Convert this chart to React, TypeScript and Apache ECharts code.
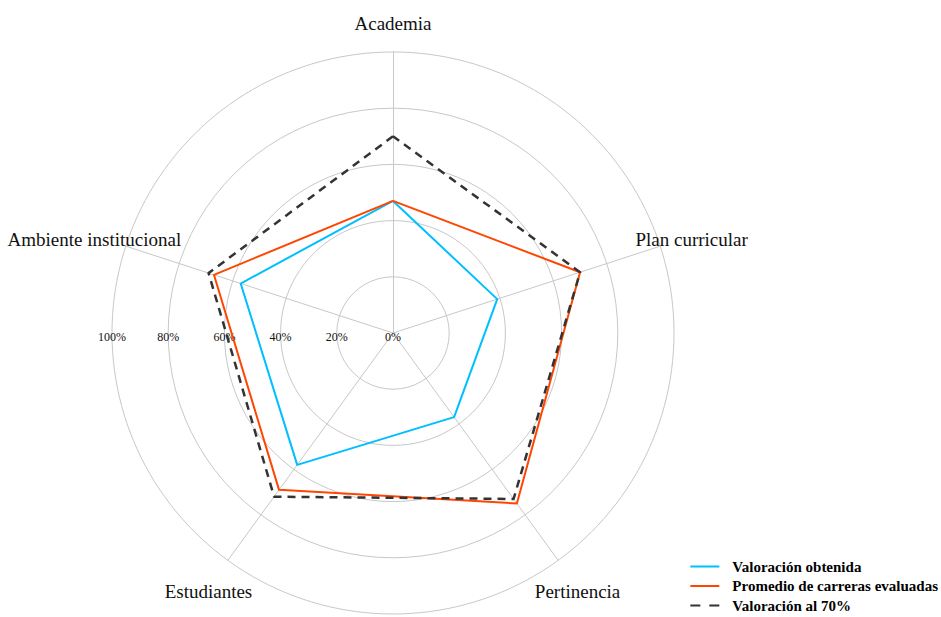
import React, { useEffect, useRef } from "react";
import * as echarts from "echarts";

// Indicators in ECharts order (counter-clockwise from top)
const indicators = ["Academia", "Ambiente institucional", "Estudiantes", "Pertinencia", "Plan curricular"];
const seriesNames = ["Valoración obtenida", "Promedio de carreras evaluadas", "Valoración al 70%"];
const obtenida = [47, 57, 58, 37, 39];
const promedio = [47, 67, 69, 75, 70];
const valor70 = [70, 69, 72, 73, 70];
const maxValue = 100;
const tickStep = 20;

export default function App() {
  const ref = useRef<HTMLDivElement>(null);
  useEffect(() => {
    if (!ref.current) return;
    const chart = echarts.init(ref.current, null, { renderer: "svg" });
    const font = "'Liberation Serif', 'Times New Roman', serif";
    const center = [393, 333];
    const radius = 281;
    chart.setOption({
      animation: false,
      backgroundColor: "#ffffff",
      textStyle: { fontFamily: font },
      legend: {
        orient: "vertical",
        right: 3,
        bottom: 4,
        padding: 0,
        itemWidth: 29,
        itemHeight: 2,
        itemGap: 4.5,
        textStyle: { fontFamily: font, fontWeight: "bold", fontSize: 15, color: "#000", padding: [0, 0, 0, 8] },
        data: [
          { name: seriesNames[0], icon: "rect" },
          { name: seriesNames[1], icon: "rect" },
          { name: seriesNames[2], icon: "path://M0,0H10V2H0Z M19,0H29V2H19Z" },
        ],
      },
      radar: [
        {
          center,
          radius,
          startAngle: 90,
          shape: "circle",
          splitNumber: maxValue / tickStep,
          indicator: indicators.map((n) => ({ name: n, max: maxValue, min: 0 })),
          nameGap: 33,
          axisName: {
            color: "#111",
            fontSize: 19,
            fontFamily: font,
            align: "center",
            verticalAlign: "middle",
            formatter: (n: string) => `{n|${n}}`,
            rich: {
              n: { color: "#111", fontSize: 19, fontFamily: font, padding: [8, 0, 0, 0] },
            },
          },
          axisLine: { lineStyle: { color: "#c8c8c8", width: 1 } },
          splitLine: { lineStyle: { color: "#c8c8c8", width: 1 } },
          splitArea: { show: false },
          axisTick: { show: false },
          axisLabel: { show: false },
        },
        {
          center,
          radius,
          startAngle: 180,
          shape: "circle",
          splitNumber: maxValue / tickStep,
          indicator: [{ name: "", max: maxValue, min: 0 }],
          axisName: { show: false },
          axisLine: { show: false },
          splitLine: { show: false },
          splitArea: { show: false },
          axisTick: { show: false },
          axisLabel: { show: true, formatter: "{value}%", color: "#111", fontSize: 12, fontFamily: font, margin: -2 },
        },
      ],
      series: [
        {
          type: "radar",
          radarIndex: 0,
          symbol: "none",
          data: [{ name: seriesNames[0], value: obtenida }],
          lineStyle: { color: "#00bfff", width: 2 },
          itemStyle: { color: "#00bfff" },
        },
        {
          type: "radar",
          radarIndex: 0,
          symbol: "none",
          data: [{ name: seriesNames[1], value: promedio }],
          lineStyle: { color: "#ff4500", width: 2 },
          itemStyle: { color: "#ff4500" },
        },
        {
          type: "radar",
          radarIndex: 0,
          symbol: "none",
          data: [{ name: seriesNames[2], value: valor70 }],
          lineStyle: { color: "#333333", width: 2.5, type: [8, 6] },
          itemStyle: { color: "#333333" },
        },
      ],
    });
    return () => chart.dispose();
  }, []);
  return <div ref={ref} style={{ position: "fixed", left: 0, top: 0, width: 941, height: 617 }} />;
}
